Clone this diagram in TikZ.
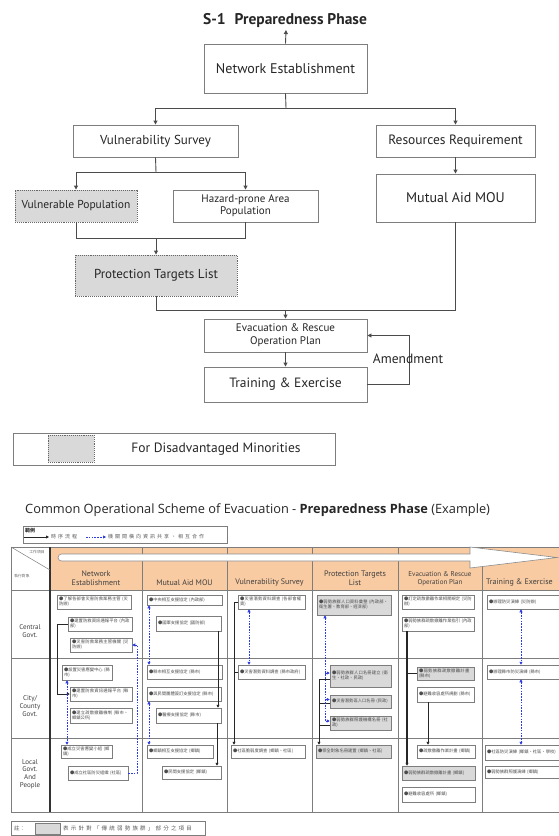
\documentclass[tikz,border=0pt]{standalone}
\usepackage{fontspec}
\setmainfont{PT Sans}
\newfontfamily\opensans{Open Sans}
\newfontfamily\cjk{Noto Sans CJK TC}
\newfontfamily\cjkw{Noto Sans CJK TC}[LetterSpace=40]
\XeTeXlinebreaklocale "zh"
\XeTeXlinebreakskip = 0pt plus 1pt
\usetikzlibrary{arrows.meta}
\definecolor{hdr}{RGB}{249,203,162}
\definecolor{gfill}{RGB}{217,217,217}
\definecolor{bord}{RGB}{125,125,125}
\definecolor{lnk}{RGB}{75,75,75}
\definecolor{blu}{RGB}{45,60,225}
\newcommand{\rbox}[7][]{\node[#1, minimum width={#4-#2}, minimum height={#5-#3}] (#6) at ({(#2+#4)/2},{(#3+#5)/2}) {#7};}
\newcommand{\cbox}[7][]{\pgfmathsetmacro\cboxtw{#4-#2-4}\node[cell,#1, minimum width={#4-#2}, minimum height={#5-#3}, text width=\cboxtw pt] (#6) at ({(#2+#4)/2},{(#3+#5)/2}) {●#7};}
\tikzset{
  box/.style={draw=bord, line width=0.9pt, fill=white, inner sep=1pt, align=center, font=\fontsize{13}{14}\selectfont, text=black!85},
  gbox/.style={box, fill=gfill, draw=black!60, densely dotted},
  cell/.style={draw=bord, line width=0.5pt, fill=white, inner xsep=2pt, inner ysep=1pt, align=left, font=\cjk\fontsize{4.3}{5.1}\selectfont, text=black!70},
  gcell/.style={fill=gfill},
  conn/.style={draw=lnk, line width=0.9pt},
  arr/.style={conn, -{Triangle[length=4pt,width=4pt]}},
  sline/.style={draw=black!85, line width=0.8pt},
  sarr/.style={sline, -{Triangle[length=3pt,width=3pt]}},
  barr/.style={draw=blu, line width=0.6pt, dash pattern=on 1.6pt off 1.2pt, -{Triangle[length=3pt,width=3pt]}},
  bboth/.style={barr, {Triangle[length=3pt,width=3pt]}-{Triangle[length=3pt,width=3pt]}},
  tline/.style={draw=bord, line width=0.7pt},
  hdrtxt/.style={anchor=south, align=center, inner sep=1pt, font=\fontsize{8}{9}\selectfont, text=black!75},
  rowtxt/.style={align=center, inner sep=1pt, font=\fontsize{7}{7.8}\selectfont, text=black!75},
}
\begin{document}
\begin{tikzpicture}[x=1pt, y=-1pt]
\useasboundingbox (0,0) rectangle (559,836);
% ===== top flowchart =====
\node[font=\bfseries\fontsize{15.5}{16}\selectfont, text=black!85] (title) at (285,21) {S-1\hspace{9pt}Preparedness Phase};
\coordinate (tb) at (286,30);
\rbox[box,font=\fontsize{14}{15}\selectfont]{204}{44}{367}{93}{ne}{Network Establishment}
\rbox[box]{73}{125}{238}{157}{vs}{Vulnerability Survey}
\rbox[box,font=\fontsize{13.5}{14}\selectfont]{376}{125}{535}{157}{rr}{Resources Requirement}
\rbox[gbox,font=\fontsize{11.5}{12}\selectfont]{15}{190}{137}{222}{vp}{Vulnerable Population}
\rbox[box,font=\fontsize{11}{12}\selectfont]{173}{190}{318}{222}{hz}{Hazard-prone Area\\Population}
\rbox[box,font=\fontsize{14}{15}\selectfont]{376}{174}{535}{222}{ma}{Mutual Aid MOU}
\rbox[gbox]{75}{255}{237}{296}{pt}{Protection Targets List}
\rbox[box,font=\fontsize{11}{13}\selectfont]{204}{319}{367}{352}{ev}{Evacuation \& Rescue\\Operation Plan}
\rbox[box,font=\fontsize{13.5}{14}\selectfont]{204}{367}{367}{402}{te}{Training \& Exercise}

\draw[arr] (ne.north) -- (tb);
\coordinate (j1) at (286,108);
\draw[conn] (ne.south) -- (j1);
\draw[arr] (j1) -| (vs.north);
\draw[arr] (j1) -| (rr.north);
\coordinate (j2) at (156,172);
\draw[conn] (vs.south) -- (j2);
\draw[arr] (j2) -| (vp.north);
\draw[arr] (j2) -| (hz.north);
\coordinate (j3) at (156,238);
\draw[conn] (vp.south) |- (j3);
\draw[conn] (hz.south) |- (j3);
\draw[arr] (j3) -- (pt.north);
\coordinate (j4) at (285.5,310);
\draw[conn] (pt.south) |- (j4);
\draw[conn] (ma.south) |- (j4);
\draw[arr] (j4) -- (ev.north);
\draw[arr] (rr.south) -- (ma.north);
\draw[arr] (ev.south) -- (te.north);
\coordinate (lp) at (409,0);
\draw[arr] (te.east) -- (te.east -| lp) -- (lp |- ev.east) -- (ev.east);
\node[font=\fontsize{13.5}{14}\selectfont, text=black!85] (am) at (408,359) {Amendment};

% legend
\rbox[draw=bord,line width=0.9pt]{13}{433}{335}{465}{leg}{}
\rbox[gbox]{48}{435}{94}{462}{sw}{}
\node[font=\fontsize{13.5}{14}\selectfont, text=black!85] (legt) at (216,449) {For Disadvantaged Minorities};

% ===== bottom scheme =====
\node[anchor=west, font=\opensans\fontsize{12.8}{13}\selectfont, text=black!85, inner sep=0pt] (t2) at (25,510) {Common Operational Scheme of Evacuation - \textbf{Preparedness Phase} (Example)};

\rbox[draw=bord,line width=0.6pt]{23}{526}{227}{543}{lg}{}
\node[anchor=west, font=\cjk\bfseries\fontsize{5}{6}\selectfont, text=black!80, inner sep=0pt] (lg1) at (25,530.5) {範例};
\coordinate (la1) at (24,537);
\coordinate (la2) at (49,537);
\draw[sarr] (la1) -- (la2);
\node[anchor=west, font=\cjkw\fontsize{5}{6}\selectfont, text=black!65, inner sep=0pt] (lt1) at (51,537) {時序流程};
\coordinate (lb1) at (86,537);
\coordinate (lb2) at (106,537);
\draw[barr] (lb1) -- (lb2);
\node[anchor=west, font=\cjkw\fontsize{5}{6}\selectfont, text=black!65, inner sep=0pt] (lt2) at (108,537) {機關間橫向資訊共享、相互合作};

% table
\fill[hdr] (50,547) rectangle (570,590);
\foreach \yy in {547,590,658,738,812} \draw[tline] (11,\yy) -- (570,\yy);
\draw[tline] (11,547) -- (11,812);
\foreach \xx in {142,227,312,398,482} \draw[tline] (\xx,547) -- (\xx,812);
\draw[draw=black!80, line width=1.4pt] (50,547) -- (50,812);
\draw[draw=bord, line width=0.5pt] (11,547) -- (50,570);
\node[font=\cjk\fontsize{3.8}{4.5}\selectfont, text=black!60, inner sep=0pt] (ch1) at (37,552) {工作項目};
\node[font=\cjk\fontsize{3.8}{4.5}\selectfont, text=black!60, inner sep=0pt] (ch2) at (22,576) {執行對象};

% header arrow
\draw[fill=white, draw=black!45, line width=0.6pt] (470,554) -- (62,554) [rounded corners=3.5pt] -- (58,554) -- (58,561) [sharp corners] -- (470,561) -- (470,568) -- (557,557.5) -- (470,547) -- cycle;

\node[hdrtxt] (h1) at (96,587) {Network\\Establishment};
\node[hdrtxt] (h2) at (184.5,587) {Mutual Aid MOU};
\node[hdrtxt] (h3) at (269.5,587) {Vulnerability Survey};
\node[hdrtxt] (h4) at (355,587) {Protection Targets\\List};
\node[hdrtxt, font=\fontsize{7}{8}\selectfont] (h5) at (440,587) {Evacuation \& Rescue\\Operation Plan};
\node[hdrtxt, anchor=south west] (h6) at (485,587) {Training \& Exercise};

\node[rowtxt] (r1) at (30,631) {Central\\Govt.};
\node[rowtxt] (r2) at (30,706) {City/\\County\\Govt.};
\node[rowtxt] (r3) at (30,774) {Local\\Govt.\\And\\People};

% cells column 1
\cbox{57}{595}{131}{609}{A1}{了解各部會災害防救業務主管 (災防辦)}
\cbox{68}{617}{132}{631}{A2}{建置防救資訊通報平台 (內政部)}
\cbox{70}{638}{132}{652}{A3}{災害防救業務主管機關 (災防辦)}
\cbox{62}{665}{112}{680}{A4}{設置災害應變中心 (縣市)}
\cbox{70}{687}{132}{701}{A5}{建置防救資訊通報平台 (縣市)}
\cbox{70}{708}{132}{723}{A6}{建立疏散撤離機制 (縣市、鄉鎮公所)}
\cbox{61}{745}{112}{758}{A7}{成立災害應變小組 (鄉鎮)}
\cbox{68}{766}{128}{780}{A8}{成立社區防災組織 (社區)}
% column 2
\cbox{147}{595}{222}{605}{B1}{中央相互支援協定 (內政部)}
\cbox{156}{616}{221}{631}{B2}{國軍支援協定 (國防部)}
\cbox{147}{665}{222}{679}{B3}{縣市相互支援協定 (縣市)}
\cbox{147}{687}{221}{701}{B4}{與民間團體簽訂支援協定 (縣市)}
\cbox{156}{708}{221}{723}{B5}{醫療支援協定 (縣市)}
\cbox{147}{745}{213}{758}{B6}{鄉鎮相互支援協定 (鄉鎮)}
\cbox{162}{766}{221}{779}{B7}{民間支援協定 (鄉鎮)}
% column 3
\cbox{238}{595}{305}{609}{C1}{災害潛勢資料調查 (各部會權責)}
\cbox{238}{665}{305}{679}{C2}{災害潛勢資料調查 (縣市政府)}
\cbox{231}{745}{305}{758}{C3}{社區脆弱度調查 (鄉鎮、社區)}
% column 4
\cbox[gcell]{317}{595}{391}{615}{D1}{弱勢族群人口資料彙整 (內政部、衛生署、教育部、經濟部)}
\cbox[gcell]{330}{665}{391}{687}{D2}{弱勢族群人口名冊建立 (衛生、社政、民政)}
\cbox[gcell]{330}{695}{391}{708}{D3}{災害潛勢區人口名冊 (民政)}
\cbox[gcell]{330}{716}{391}{730}{D4}{弱勢族群照護機構名冊 (社政)}
\cbox[gcell]{316}{745}{391}{758}{D5}{保全對象名冊建置 (鄉鎮、社區)}
% column 5
\cbox{402}{595}{474}{609}{E1}{訂定疏散撤離作業相關規定 (災防辦)}
\cbox{402}{617}{474}{631}{E2}{弱勢族群疏散撤離作業指引 (內政部)}
\cbox[gcell]{417}{667}{474}{680}{E3}{弱勢族群疏散撤離計畫 (縣市)}
\cbox{417}{687}{474}{702}{E4}{避難收容處所規劃 (縣市)}
\cbox{417}{745}{475}{758}{E5}{疏散撤離作業計畫 (鄉鎮)}
\cbox[gcell]{402}{766}{475}{780}{E6}{弱勢族群疏散撤離計畫 (鄉鎮)}
\cbox{402}{787}{475}{802}{E7}{避難收容處所 (鄉鎮)}
% column 6
\cbox{487}{595}{565}{609}{F1}{辦理防災演練 (災防辦)}
\cbox{487}{665}{565}{679}{F2}{辦理縣市防災演練 (縣市)}
\cbox{485}{745}{565}{760}{F3}{社區防災演練 (鄉鎮、社區、學校)}
\cbox{485}{766}{565}{778}{F4}{弱勢族群照護演練 (鄉鎮)}

% x positions of vertical connectors
\coordinate (xa) at (67,0);
\coordinate (xb) at (137,0);
\coordinate (xc) at (149,0);
\coordinate (xd) at (249,0);
\coordinate (xe) at (325,0);
\coordinate (xf) at (521,0);
\coordinate (xg) at (57,0);
\coordinate (xb2) at (218,0);
\coordinate (xb5) at (217,0);
\coordinate (xh) at (234,0);
\coordinate (xi) at (319,0);
\coordinate (xj) at (407,0);
\coordinate (xk) at (428,0);

% solid connectors
\draw[sarr] (A2.west) -- (A2.west -| xg) |- (A5.west);
\draw[sarr] (B2.south -| xb2) -- (B5.north -| xb2);
\draw[sarr] (B5.south -| xb5) -- (B7.north -| xb5);
\draw[sarr] (C1.west) -- (C1.west -| xh) -- (C3.north -| xh);
\draw[sline] (C2.west -| xh) -- (C2.west);
\draw[sarr] ([yshift=-3pt]D2.west) -- ([yshift=-3pt]D2.west -| xi) -- (D5.north -| xi);
\draw[sline] ([yshift=-2pt]D3.west) -- ([yshift=-2pt]D3.west -| xi);
\draw[sline] ([yshift=-2pt]D4.west) -- ([yshift=-2pt]D4.west -| xi);
\draw[sarr, line width=1.2pt] (E2.south -| xj) -- (E6.north -| xj);
\draw[sline] (E3.west -| xj) -- (E3.west);
\draw[sarr] (E4.south -| xk) -- (E5.north -| xk);

% blue dashed connectors
\draw[bboth] (A4.south -| xa) -- (A7.north -| xa);
\draw[barr] (A8.east) -- (A8.east -| xb) -- (A3.east -| xb) -- (A3.east);
\draw[bboth] (B1.south -| xc) -- (B3.north -| xc);
\draw[bboth] (B4.south -| xc) -- (B6.north -| xc);
\draw[bboth] (C1.south -| xd) -- (C2.north -| xd);
\draw[bboth] (D1.south -| xe) -- ([yshift=2pt]D4.west -| xe) -- ([yshift=2pt]D4.west);
\draw[barr] ([yshift=3pt]D2.west -| xe) -- ([yshift=3pt]D2.west);
\draw[barr] ([yshift=2pt]D3.west -| xe) -- ([yshift=2pt]D3.west);
\draw[bboth] (F1.south -| xf) -- (F2.north -| xf);
\draw[bboth] (F2.south -| xf) -- (F3.north -| xf);

% note
\rbox[draw=bord,line width=0.6pt]{11}{821}{205}{835.5}{nt}{}
\node[anchor=west, font=\cjk\fontsize{5.5}{6}\selectfont, text=black!65, inner sep=0pt] (nt1) at (14,828.5) {註：};
\rbox[draw=bord,line width=0.5pt,fill=gfill]{35}{823}{60}{834}{nsw}{}
\node[anchor=west, font=\cjkw\fontsize{5.5}{6}\selectfont, text=black!65, inner sep=0pt] (nt2) at (63,828.5) {表示針對「傳統弱勢族群」部分之項目};
\end{tikzpicture}
\end{document}
